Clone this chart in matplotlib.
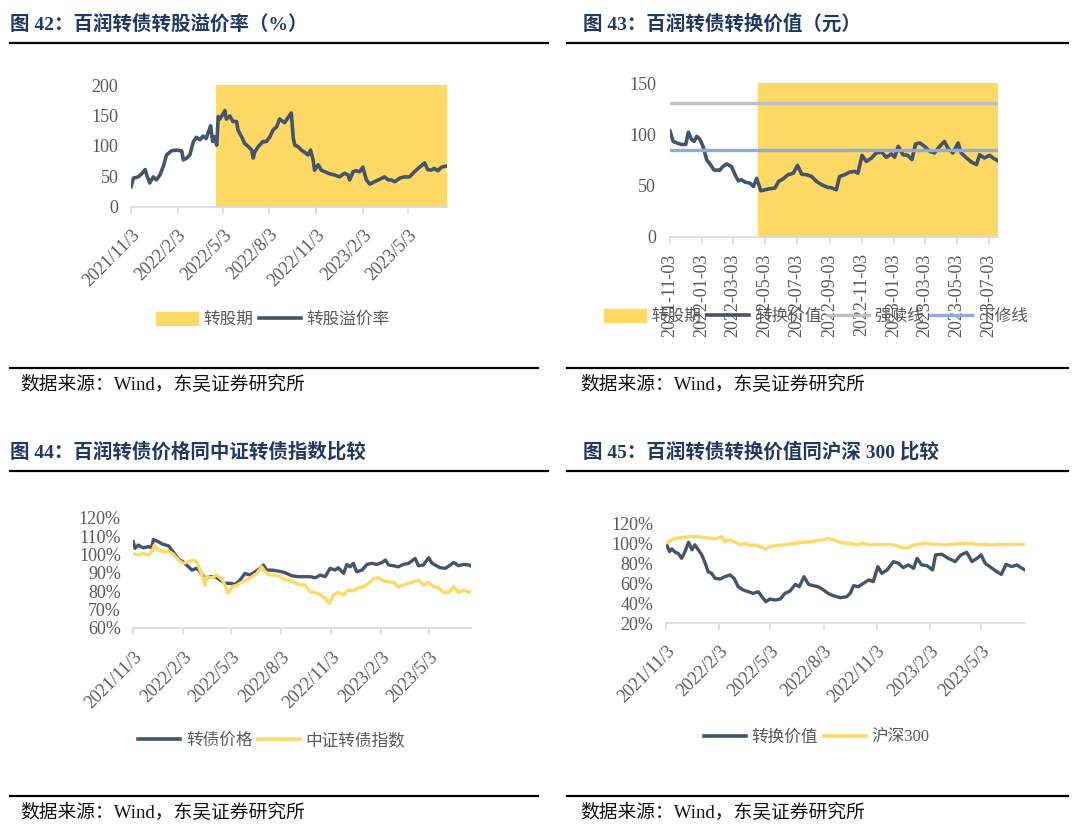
import matplotlib
matplotlib.use('Agg')
import matplotlib.pyplot as plt
import pandas as pd
from matplotlib.lines import Line2D
from matplotlib.patches import Patch

# fonts: Times-like for latin/digits, CJK falls back to Noto
plt.rcParams['font.family'] = ['Liberation Serif', 'Noto Sans CJK SC']

W, H = 1080, 832
NAVY = '#44546a'
YELLOW = '#ffd966'
GRAY_LINE = '#bfbfbf'
BLUE_LINE = '#8faadc'
TICK_COLOR = '#595959'
AXIS_COLOR = '#d9d9d9'
TITLE_COLOR = '#1f3864'

START = '2021-11-03'
CONV_START = '2022-04-19'   # start of conversion period (yellow band)

# ---- data (days since 2021-11-03) ----
# fig 42: conversion premium (%)
p1_days = [0, 5, 14, 21, 28, 31, 37, 44, 50, 57, 64, 70, 80, 90, 100, 103, 110, 116, 123, 129,
           136, 142, 148, 152, 157, 161, 165, 169, 172, 175, 182, 185, 188, 195, 201, 208, 211, 218, 224, 231,
           238, 241, 244, 251, 260, 267, 274, 280, 287, 293, 303, 310, 316, 320, 323, 329, 336, 343, 349, 354,
           359, 362, 369, 375, 382, 392, 402, 411, 421, 428, 431, 438, 444, 451, 457, 464, 471, 480, 490, 500,
           507, 513, 520, 530, 539, 549, 559, 569, 579, 585, 592, 598, 605, 612, 623]
premium = [33, 47, 49, 54, 61, 52, 39, 49, 44, 52, 67, 85, 92, 93, 91.5, 77, 80, 85, 107, 114,
           110, 116, 112, 121, 133, 107, 115, 101, 148, 144, 153, 158, 144, 149, 140, 140, 126, 115, 104, 99,
           93, 80, 90, 99, 107, 107, 115, 126, 131, 144, 138, 147, 154, 112, 101, 99, 93, 89, 85, 93,
           77, 60, 69, 60, 57.5, 54, 52, 49, 55, 52, 44, 57.5, 59, 57.5, 65, 44, 37, 41, 45, 49,
           44, 44, 41, 47, 49, 49, 57.5, 65, 72, 61, 60, 63, 59, 65, 67]

# fig 43: conversion value (yuan)
p2_days = [0, 3, 6, 13, 22, 30, 35, 41, 46, 51, 57, 63, 70, 76, 84, 95, 101, 108, 117, 124,
           130, 136, 143, 152, 159, 165, 173, 181, 190, 200, 207, 216, 225, 235, 243, 251, 260, 270, 279, 289,
           301, 306, 317, 323, 333, 342, 352, 358, 366, 374, 384, 393, 403, 412, 422, 428, 435, 444, 453, 461,
           468, 476, 485, 495, 504, 514, 523, 530, 539, 549, 555, 565, 574, 584, 590, 599, 609, 617, 625]
conv_value = [103, 98, 93, 91.5, 90, 90, 102, 95, 93, 98, 95, 88, 75, 71, 65, 65, 68.6, 71, 68.6, 60.5,
              54.6, 55.6, 53.3, 52.3, 49, 57, 44.8, 45.8, 46.8, 47.5, 54, 56.6, 60.5, 62, 69.6, 61, 60.5, 58.8, 54, 50.7,
              48, 48, 45.8, 58.8, 60.5, 63, 63.7, 62, 79.4, 73.5, 76.8, 81.7, 82.7, 77.5, 80.8, 77.5, 88.2, 80, 79.4, 75.2,
              90.6, 91.5, 88.2, 83.3, 81.7, 88.2, 93, 86, 81.7, 91.5, 81.7, 76.8, 73, 70.3, 80, 76.8, 79.4, 76.2, 74.2]
redeem_line = 130
reset_line = 85

# fig 44: bond price vs CSI convertible index (%)
p3a_days = [0, 3, 9, 18, 28, 34, 37, 46, 55, 65, 71, 77, 83, 92, 102, 108, 117, 123, 132, 142,
            151, 160, 169, 179, 188, 197, 206, 215, 225, 234, 240, 246, 256, 265, 274, 283, 292, 305, 317, 326,
            336, 345, 354, 363, 372, 378, 388, 394, 400, 406, 412, 422, 431, 440, 449, 459, 465, 471, 480, 489,
            498, 508, 520, 526, 535, 545, 551, 557, 566, 576, 585, 591, 600, 609, 619, 623]
bond_price = [107, 103.4, 105.2, 103.7, 104.3, 103.7, 108.3, 107, 105.6, 104.8, 102.5, 100.1, 97.5, 96, 93.3, 91.5, 92.5, 90.6, 87, 87.9,
              87.9, 86.1, 84.3, 84.3, 83.7, 86.1, 89.7, 88.8, 90.6, 92.5, 94.3, 91.5, 91.5, 91.1, 90.6, 89.7, 88.4, 87.9, 87.9, 87.9,
              87.3, 88.8, 87.9, 92.5, 91.5, 92.8, 89.7, 94.6, 93.3, 95.2, 90.6, 91.5, 94.6, 95.2, 94.6, 95.7, 97, 94.3, 93.9, 93.3,
              94.6, 95.2, 97.9, 93.9, 94.3, 98.3, 95.2, 94.3, 92.8, 92.5, 94.3, 95.7, 93.9, 94.6, 94.3, 93.7]
p3b_days = [0, 9, 18, 28, 34, 39, 46, 55, 65, 74, 83, 92, 102, 111, 117, 123, 129, 132, 135, 145,
            154, 163, 169, 175, 182, 191, 200, 209, 219, 228, 237, 243, 252, 262, 271, 280, 289, 299, 308, 317,
            326, 336, 345, 354, 362, 369, 378, 388, 397, 406, 415, 425, 434, 443, 452, 462, 471, 480, 489, 498,
            508, 517, 526, 535, 545, 554, 563, 572, 582, 591, 600, 609, 619, 623]
cb_index = [100.6, 99.7, 100.6, 99.7, 101.5, 105.2, 102.5, 101.5, 101.9, 100.1, 97, 95.2, 96.1, 97, 96.1, 91.5, 87, 83.3, 87.9, 87.3,
            88.8, 86.6, 83.3, 78.8, 82.4, 83.3, 84.8, 86.1, 87.9, 89.7, 93.3, 90.6, 88.8, 88.8, 87.9, 86.1, 86.1, 84.3, 83.7, 83.3,
            79.7, 79.3, 77.9, 76.1, 73.3, 77.9, 79.3, 77.9, 80.6, 80.1, 81.9, 82.4, 84.3, 86.6, 87.3, 85.5, 85.1, 84.8, 82.4, 83.3,
            84.3, 85.1, 86.1, 83.3, 84.8, 82.4, 81.9, 79.3, 79.3, 82.4, 79.3, 80.6, 79.3, 79.7]

# fig 45: conversion value vs CSI 300 (%)
p4a_days = [0, 6, 10, 16, 21, 27, 33, 39, 45, 50, 56, 62, 68, 73, 79, 85, 94, 102, 111, 118,
            125, 134, 143, 151, 160, 166, 173, 180, 189, 198, 206, 215, 224, 231, 239, 247, 255, 264, 273, 281,
            290, 302, 313, 319, 325, 333, 342, 351, 359, 367, 374, 383, 394, 403, 411, 420, 429, 435, 443, 452,
            462, 467, 478, 489, 501, 511, 521, 530, 539, 546, 553, 565, 573, 581, 589, 599, 608, 617, 622]
conv_value_pct = [100, 91.5, 94.2, 90.8, 89.8, 84.8, 91.5, 100.8, 93.2, 98.2, 93.2, 88.2, 79.8, 71.5, 69.8, 64.8, 64.2, 66.5, 68.2, 64.8,
                  56.5, 53.2, 51.5, 49.8, 51.5, 46.5, 41.5, 44.2, 43.2, 44.2, 49.8, 52.2, 58.8, 56.5, 66.5, 58.8, 57.5, 56.5, 53.2, 49.8,
                  47.5, 45.5, 46.5, 49.8, 57.5, 56.5, 59.8, 63.2, 61.5, 76.5, 69.8, 73.2, 81.5, 79.8, 75.5, 78.2, 74.8, 84.8, 78.2, 77.5,
                  73.2, 88.2, 88.8, 84.8, 81.5, 88.2, 90.8, 81.5, 84.8, 88.2, 79.8, 74.8, 71.5, 68.8, 78.8, 76.5, 78.2, 74.8, 73.2]
p4b_days = [0, 10, 18, 30, 42, 53, 65, 76, 88, 96, 102, 111, 120, 128, 137, 146, 154, 163, 173, 180,
            192, 203, 215, 226, 238, 250, 261, 273, 281, 290, 302, 310, 319, 330, 342, 354, 365, 377, 388, 400,
            408, 417, 426, 437, 449, 460, 472, 483, 495, 507, 518, 530, 541, 553, 564, 576, 587, 599, 611, 622]
hs300 = [100, 103.2, 104.8, 105.5, 106.5, 106.5, 105.5, 104.8, 104.2, 106.5, 101.5, 103.2, 100.8, 98.2, 99.8, 97.5, 98.2, 96.5, 94.2, 96.5,
         97.5, 98.2, 99.2, 99.8, 100.8, 101.5, 102.2, 103.2, 104.8, 103.2, 100.8, 99.8, 99.8, 98.2, 99.8, 98.2, 98.8, 98.2, 98.8, 97.5,
         95.5, 94.8, 97.5, 98.8, 99.8, 98.8, 98.8, 98.2, 98.8, 99.2, 99.5, 99.8, 98.2, 98.8, 98.2, 98.8, 98.2, 98.8, 98.8, 98.8]

ticks_a = ['2021-11-03', '2022-02-03', '2022-05-03', '2022-08-03', '2022-11-03', '2023-02-03', '2023-05-03']
ticks_b = ['2021-11-03', '2022-01-03', '2022-03-03', '2022-05-03', '2022-07-03', '2022-09-03',
           '2022-11-03', '2023-01-03', '2023-03-03', '2023-05-03', '2023-07-03']


def to_dates(days):
    return pd.Timestamp(START) + pd.to_timedelta(days, unit='D')


def box(l, t, r, b):
    return [l / W, 1 - b / H, (r - l) / W, (b - t) / H]


def hline(x0, x1, y, lw=1.6):
    fig.add_artist(Line2D([x0 / W, x1 / W], [1 - y / H, 1 - y / H], color='black', lw=lw))


def style(ax, ylim, yticks, ylabels, ypad, xticks, xlabels, rot, xpad):
    ax.set_ylim(*ylim)
    ax.set_yticks(yticks)
    ax.set_yticklabels(ylabels)
    for s in ['left', 'right', 'top']:
        ax.spines[s].set_visible(False)
    ax.spines['bottom'].set_color(AXIS_COLOR)
    ax.spines['bottom'].set_linewidth(1.2)
    ax.patch.set_alpha(0)
    ax.tick_params(axis='y', length=0, pad=ypad, labelsize=13, labelcolor=TICK_COLOR)
    ax.tick_params(axis='x', length=5, width=1.2, color=AXIS_COLOR, labelsize=13, labelcolor=TICK_COLOR, pad=xpad)
    ax.set_xticks(pd.to_datetime(xticks))
    if rot == 45:
        ax.set_xticklabels(xlabels, rotation=45, ha='right', va='top', rotation_mode='anchor')
    else:
        ax.set_xticklabels(xlabels, rotation=90, ha='center', va='top')


def legend(handles, labels, cx, cy):
    fig.legend(handles, labels, loc='center', bbox_to_anchor=(cx / W, 1 - cy / H), ncol=len(handles),
               frameon=False, fontsize=12, handlelength=2.5, handleheight=0.8, handletextpad=0.35,
               columnspacing=0.35, labelcolor=TICK_COLOR, borderaxespad=0)


def slash_fmt(ticks):
    return ['%d/%d/%d' % (d.year, d.month, d.day) for d in pd.to_datetime(ticks)]


fig = plt.figure(figsize=(W / 100, H / 100), dpi=100)

# titles, rules and footers
titles = [(10, 24, '图 42：百润转债转股溢价率（%）'), (583, 24, '图 43：百润转债转换价值（元）'),
          (10, 452, '图 44：百润转债价格同中证转债指数比较'), (583, 452, '图 45：百润转债转换价值同沪深 300 比较')]
for x, y, s in titles:
    fig.text(x / W, 1 - y / H, s, fontsize=14, fontweight='bold', color=TITLE_COLOR, ha='left', va='center')
for y in [43, 471]:
    hline(10, 548, y)
    hline(567, 1068, y)
for y in [368, 796]:
    hline(10, 538, y)
    hline(567, 1068, y)
for x, y in [(20, 385), (580, 385), (20, 813), (580, 813)]:
    fig.text(x / W, 1 - y / H, '数据来源：Wind，东吴证券研究所', fontsize=13.5, color='#111111',
             ha='left', va='center')

# ---- fig 42 ----
ax1 = fig.add_axes(box(131, 85, 447, 206.7))
d1 = to_dates(p1_days)
ax1.axvspan(pd.Timestamp(CONV_START), d1[-1], color=YELLOW, lw=0, zorder=0)
ax1.plot(d1, premium, color=NAVY, lw=2.6, zorder=3)
ax1.set_xlim(d1[0], d1[-1])
style(ax1, (0, 200), [0, 50, 100, 150, 200], ['0', '50', '100', '150', '200'], 9,
      ticks_a, slash_fmt(ticks_a), 45, 9)
legend([Patch(color=YELLOW), Line2D([], [], color=NAVY, lw=2.6)], ['转股期', '转股溢价率'], 273, 320)

# ---- fig 43 ----
ax2 = fig.add_axes(box(670, 83, 998, 236.7))
d2 = to_dates(p2_days)
ax2.axvspan(pd.Timestamp(CONV_START), d2[-1], color=YELLOW, lw=0, zorder=0)
ax2.plot(d2, conv_value, color=NAVY, lw=2.6, zorder=3)
ax2.axhline(redeem_line, color=GRAY_LINE, lw=2.4, zorder=4)
ax2.axhline(reset_line, color=BLUE_LINE, lw=2.4, zorder=4)
ax2.set_xlim(d2[0], d2[-1])
style(ax2, (0, 150), [0, 50, 100, 150], ['0', '50', '100', '150'], 10,
      ticks_b, [pd.Timestamp(t).strftime('%Y-%m-%d') for t in ticks_b], 90, 7)
legend([Patch(color=YELLOW), Line2D([], [], color=NAVY, lw=2.6),
        Line2D([], [], color=GRAY_LINE, lw=2.4), Line2D([], [], color=BLUE_LINE, lw=2.4)],
       ['转股期', '转换价值', '强赎线', '下修线'], 816, 317)

# ---- fig 44 ----
ax3 = fig.add_axes(box(133.3, 518, 471, 627.7))
d3a = to_dates(p3a_days)
d3b = to_dates(p3b_days)
ax3.plot(d3a, bond_price, color=NAVY, lw=2.4, zorder=3)
ax3.plot(d3b, cb_index, color=YELLOW, lw=2.4, zorder=4)
ax3.set_xlim(d3a[0], d3a[-1])
style(ax3, (60, 120), list(range(60, 121, 10)), ['%d%%' % v for v in range(60, 121, 10)], 9,
      ticks_a, slash_fmt(ticks_a), 45, 10)
legend([Line2D([], [], color=NAVY, lw=2.6), Line2D([], [], color=YELLOW, lw=2.6)],
       ['转债价格', '中证转债指数'], 272, 741)

# ---- fig 45 ----
ax4 = fig.add_axes(box(666, 523, 1025, 623.3))
d4a = to_dates(p4a_days)
d4b = to_dates(p4b_days)
ax4.plot(d4a, conv_value_pct, color=NAVY, lw=2.4, zorder=3)
ax4.plot(d4b, hs300, color=YELLOW, lw=2.4, zorder=4)
ax4.set_xlim(d4a[0], d4a[-1])
style(ax4, (20, 120), list(range(20, 121, 20)), ['%d%%' % v for v in range(20, 121, 20)], 9,
      ticks_a, slash_fmt(ticks_a), 45, 9)
legend([Line2D([], [], color=NAVY, lw=2.6), Line2D([], [], color=YELLOW, lw=2.6)],
       ['转换价值', '沪深300'], 817, 738)

fig.savefig('out.png', dpi=100)
